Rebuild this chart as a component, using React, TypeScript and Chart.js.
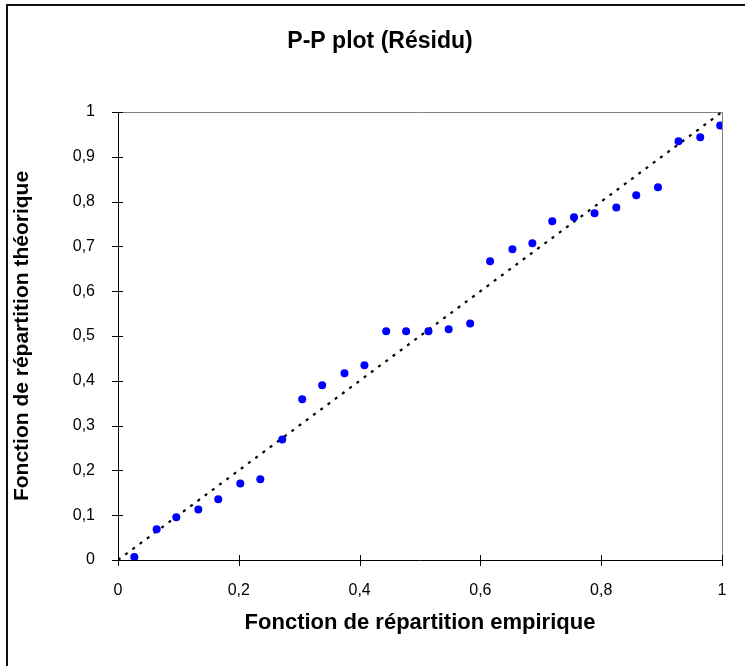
import React, { useEffect, useRef } from "react";
import { Chart, registerables } from "chart.js";

Chart.register(...registerables);

const chartTitle = "P-P plot (Résidu)";
const empiricalValues = [
  0.027, 0.064, 0.0965, 0.133, 0.166, 0.2025, 0.2356, 0.272, 0.305, 0.338,
  0.375, 0.408, 0.444, 0.477, 0.514, 0.5475, 0.583, 0.616, 0.653, 0.686,
  0.719, 0.755, 0.789, 0.825, 0.858, 0.894, 0.928, 0.964, 0.997,
];
const theoreticalValues = [
  0.0067, 0.0685, 0.0953, 0.113, 0.1355, 0.171, 0.18, 0.269, 0.3587, 0.39,
  0.4167, 0.4346, 0.5105, 0.5105, 0.5105, 0.515, 0.528, 0.6667, 0.6935, 0.707,
  0.756, 0.765, 0.774, 0.787, 0.814, 0.832, 0.9346, 0.9435, 0.97,
];
const diagonalX = [0, 1];
const diagonalY = [0, 1];
const xTickValues = [0, 0.2, 0.4, 0.6, 0.8, 1];
const xTickLabels = ["0", "0,2", "0,4", "0,6", "0,8", "1"];
const yTickValues = [0, 0.1, 0.2, 0.3, 0.4, 0.5, 0.6, 0.7, 0.8, 0.9, 1];
const yTickLabels = ["0", "0,1", "0,2", "0,3", "0,4", "0,5", "0,6", "0,7", "0,8", "0,9", "1"];

const FONT = "'Liberation Sans', Arial, sans-serif";

const decorPlugin = {
  id: "decor",
  beforeDraw(chart: any) {
    const ctx = chart.ctx;
    ctx.save();
    ctx.fillStyle = "#ffffff";
    ctx.fillRect(0, 0, chart.width, chart.height);
    ctx.restore();
  },
  beforeDatasetsDraw(chart: any) {
    const ctx = chart.ctx;
    const { left, right, top, bottom } = chart.chartArea;
    ctx.save();
    ctx.strokeStyle = "#808080";
    ctx.lineWidth = 1;
    ctx.beginPath();
    ctx.moveTo(left, top + 0.5);
    ctx.lineTo(right + 0.5, top + 0.5);
    ctx.lineTo(right + 0.5, bottom);
    ctx.stroke();
    ctx.strokeStyle = "#000000";
    ctx.beginPath();
    const xs = chart.scales.x;
    xs.ticks.forEach((t: any) => {
      const px = Math.round(xs.getPixelForValue(t.value)) + 0.5;
      ctx.moveTo(px, bottom - 5);
      ctx.lineTo(px, bottom + 6);
    });
    const ys = chart.scales.y;
    ys.ticks.forEach((t: any) => {
      const py = Math.round(ys.getPixelForValue(t.value)) + 0.5;
      ctx.moveTo(left - 6, py);
      ctx.lineTo(left + 5, py);
    });
    ctx.stroke();
    ctx.restore();
  },
  afterDraw(chart: any) {
    const ctx = chart.ctx;
    ctx.save();
    ctx.fillStyle = "#000000";
    ctx.font = `bold 23px ${FONT}`;
    ctx.textAlign = "center";
    ctx.textBaseline = "middle";
    ctx.fillText(chartTitle, 380, 42);
    ctx.strokeStyle = "#111111";
    ctx.lineWidth = 2;
    ctx.beginPath();
    ctx.moveTo(7, chart.height);
    ctx.lineTo(7, 5);
    ctx.lineTo(chart.width, 5);
    ctx.stroke();
    ctx.restore();
  },
};

export default function App() {
  const canvasRef = useRef<HTMLCanvasElement | null>(null);

  useEffect(() => {
    document.body.style.margin = "0";
    const canvas = canvasRef.current;
    if (!canvas) return;
    const chart = new Chart(canvas, {
      type: "scatter",
      data: {
        datasets: [
          {
            type: "scatter",
            label: "Résidu",
            data: empiricalValues.map((x, i) => ({ x, y: theoreticalValues[i] })),
            backgroundColor: "#0000ff",
            borderWidth: 0,
            pointRadius: 4,
            pointHoverRadius: 4,
          },
          {
            type: "line",
            label: "Diagonale",
            data: diagonalX.map((x, i) => ({ x, y: diagonalY[i] })),
            borderColor: "#000000",
            borderWidth: 2.2,
            borderDash: [3, 6],
            pointRadius: 0,
            fill: false,
          },
        ],
      },
      options: {
        responsive: false,
        animation: false,
        layout: { padding: { left: 0, right: 23, top: 112, bottom: 0 } },
        plugins: {
          legend: { display: false },
          tooltip: { enabled: false },
          title: { display: false },
        },
        scales: {
          x: {
            type: "linear",
            min: 0,
            max: 1,
            afterBuildTicks: (scale: any) => {
              scale.ticks = xTickValues.map((v) => ({ value: v }));
            },
            afterFit: (scale: any) => {
              scale.height = 106;
            },
            ticks: {
              color: "#000000",
              font: { family: FONT, size: 16 },
              padding: 13,
              maxRotation: 0,
              callback: (_v: any, i: number) => xTickLabels[i],
            },
            grid: { display: false },
            border: { display: true, color: "#000000", width: 1 },
            title: {
              display: true,
              text: "Fonction de répartition empirique",
              color: "#000000",
              font: { family: FONT, size: 22, weight: "bold", lineHeight: 1.2 },
              padding: { top: 0, bottom: 30 },
            },
          },
          y: {
            type: "linear",
            min: 0,
            max: 1,
            afterBuildTicks: (scale: any) => {
              scale.ticks = yTickValues.map((v) => ({ value: v }));
            },
            afterFit: (scale: any) => {
              scale.width = 118;
            },
            ticks: {
              color: "#000000",
              font: { family: FONT, size: 16 },
              padding: 15,
              callback: (_v: any, i: number) => yTickLabels[i],
            },
            grid: { display: false },
            border: { display: true, color: "#000000", width: 1 },
            title: {
              display: true,
              text: "Fonction de répartition théorique",
              color: "#000000",
              font: { family: FONT, size: 21, weight: "bold", lineHeight: 1.2 },
              padding: { top: 10, bottom: 0 },
            },
          },
        },
      },
      plugins: [decorPlugin],
    } as any);
    return () => chart.destroy();
  }, []);

  return (
    <div style={{ position: "fixed", left: 0, top: 0, width: 745, height: 666, background: "#fff" }}>
      <canvas ref={canvasRef} width={745} height={666} style={{ display: "block" }} />
    </div>
  );
}
